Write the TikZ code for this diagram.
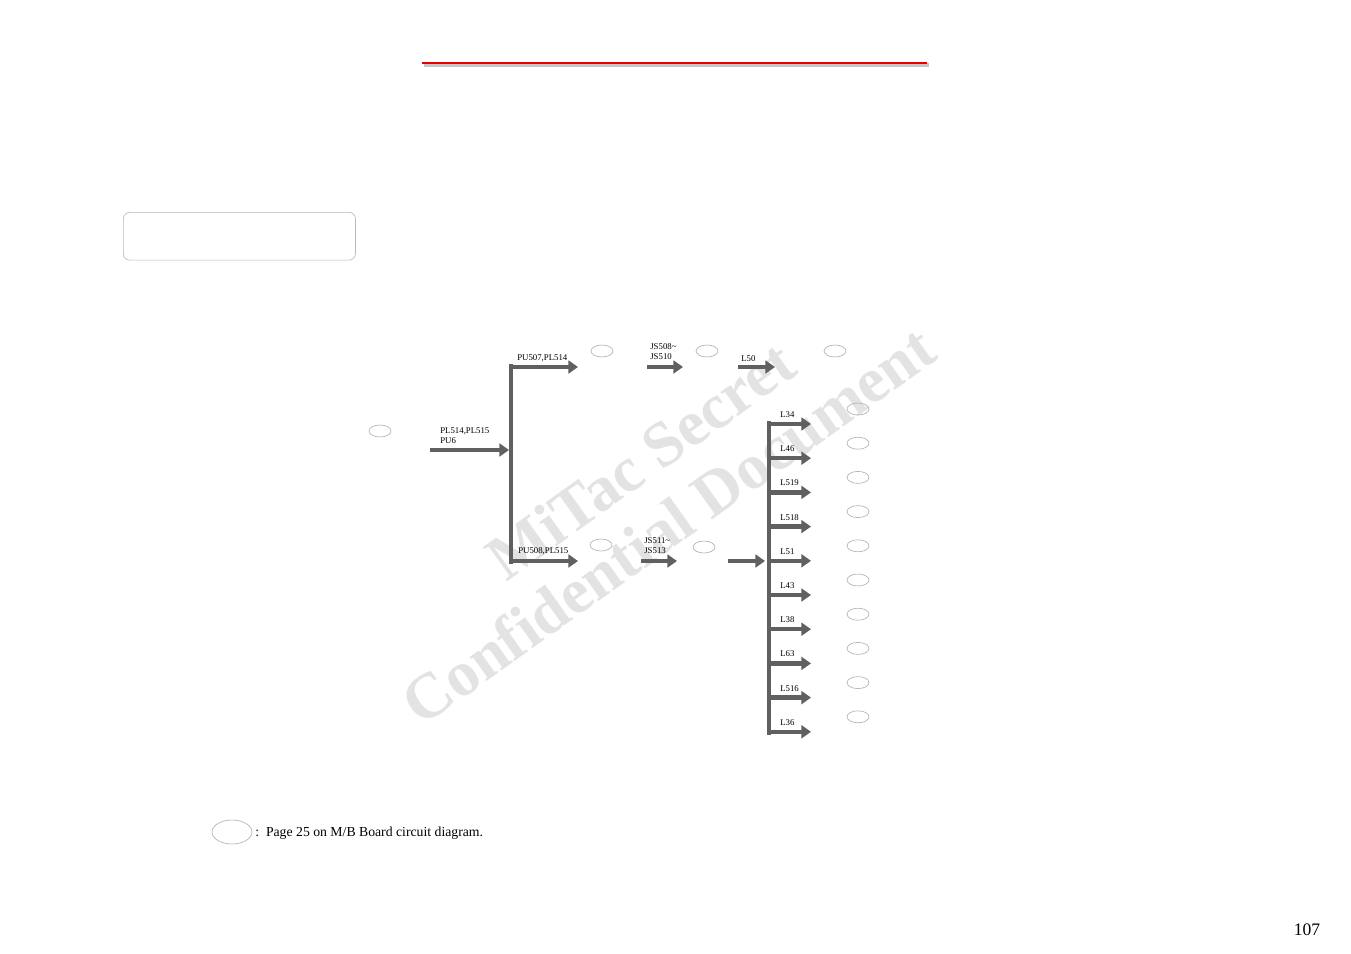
\documentclass[tikz,border=0pt]{standalone}
\usepackage{fontspec}
\setmainfont{Liberation Serif}
\usetikzlibrary{arrows.meta}
\tikzset{
  fatarrow/.style={line width=4.5pt*0.6237,draw=gray!75!black,
    -{Triangle[width=8pt,length=6pt]}},
  busbar/.style={line width=4pt*0.6237,draw=gray!75!black},
  refmark/.style={ellipse,draw=gray!60,thin,minimum width=22*0.6237pt,
    minimum height=12*0.6237pt,inner sep=0pt},
  lbl/.style={font=\fontsize{5.5pt}{6.3pt}\selectfont,inner sep=0pt,align=left},
  wmark/.style={font=\fontsize{40pt}{42pt}\selectfont\bfseries,text=gray!22,rotate=35.5}
}
\usetikzlibrary{shapes.geometric}
\begin{document}
\begin{tikzpicture}[x=0.022cm,y=-0.022cm]
  \useasboundingbox[fill=white] (0,0) rectangle (1351,954);
  % watermark
  \node[wmark] (wm1) at (640,460) {MiTac Secret};
  \node[wmark] (wm2) at (668,525) {Confidential Document};
  % header rule
  \draw[line width=2pt,gray!45] (424,65) -- (929,65);
  \draw[line width=1.6pt,red!90!black] (422,63) -- (927,63);
  % empty title box
  \node[draw=gray!55,rounded corners=4pt,minimum width=233*0.6237pt,
        minimum height=48*0.6237pt,anchor=north west] (title) at (123,212) {};
  % source
  \node[refmark] (e0) at (380,431) {};
  \coordinate (in) at (430,450);
  \coordinate (busA) at (509,450);
  \node[lbl,anchor=north west] (lin) at (440,427) {PL514,PL515\\PU6};
  \draw[fatarrow] (in) -- (busA);
  % first bus
  \coordinate (busAtop) at (511,364);
  \coordinate (busAbot) at (511,564);
  \draw[busbar] (busAtop) -- (busAbot);
  % upper branch
  \coordinate (u1s) at (512,367);
  \coordinate (u1e) at (578,367);
  \node[lbl,anchor=base west] (lu1) at (517,360) {PU507,PL514};
  \draw[fatarrow] (u1s) -- (u1e);
  \node[refmark] (e1) at (602,351) {};
  \coordinate (u2s) at (647,367);
  \coordinate (u2e) at (683,367);
  \node[lbl,anchor=north west] (lu2) at (650,343) {JS508\textasciitilde\\JS510};
  \draw[fatarrow] (u2s) -- (u2e);
  \node[refmark] (e2) at (707,351) {};
  \coordinate (u3s) at (738,367);
  \coordinate (u3e) at (775,367);
  \node[lbl,anchor=base west] (lu3) at (741,361.5) {L50};
  \draw[fatarrow] (u3s) -- (u3e);
  \node[refmark] (e3) at (835,351) {};
  % lower branch
  \coordinate (d1s) at (512,561);
  \coordinate (d1e) at (578,561);
  \node[lbl,anchor=base west] (ld1) at (518,553) {PU508,PL515};
  \draw[fatarrow] (d1s) -- (d1e);
  \node[refmark] (e4) at (601,545) {};
  \coordinate (d2s) at (641,561);
  \coordinate (d2e) at (677,561);
  \node[lbl,anchor=north west] (ld2) at (644,537) {JS511\textasciitilde\\JS513};
  \draw[fatarrow] (d2s) -- (d2e);
  \node[refmark] (e5) at (704,547) {};
  \coordinate (d3s) at (728,561);
  \coordinate (d3e) at (765,561);
  \draw[fatarrow] (d3s) -- (d3e);
  % second bus
  \coordinate (busBtop) at (769,421);
  \coordinate (busBbot) at (769,735);
  \draw[busbar] (busBtop) -- (busBbot);
  \foreach \name [count=\i from 0] in {L34,L46,L519,L518,L51,L43,L38,L63,L516,L36} {
    \coordinate (b\i s) at (771,424+34.2*\i);
    \coordinate (b\i e) at (811,424+34.2*\i);
    \node[lbl,anchor=base west] (lb\i) at (780,417.5+34.2*\i) {\name};
    \draw[fatarrow] (b\i s) -- (b\i e);
    \node[refmark] (r\i) at (858,409+34.2*\i) {};
  }
  % legend
  \node[refmark,minimum width=40*0.6237pt,minimum height=24*0.6237pt] (key) at (232,832) {};
  \node[anchor=west,inner sep=0pt,font=\fontsize{8.6pt}{10pt}\selectfont] (keytxt)
    at (255,833) {:\ \ Page 25 on M/B Board circuit diagram.};
  % page number
  \node[inner sep=0pt,font=\fontsize{11pt}{12pt}\selectfont] (pg) at (1307,930) {107};
\end{tikzpicture}
\end{document}
